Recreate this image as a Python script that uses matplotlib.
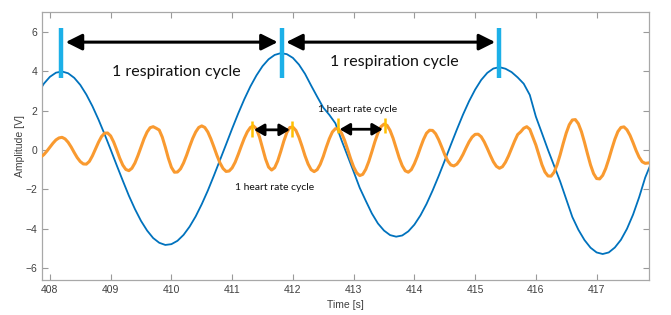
import numpy as np
import matplotlib
matplotlib.use("Agg")
import matplotlib.pyplot as plt

# -------------------------------
# Data
# -------------------------------
# respiration signal, sampled every 0.1 s starting at 407.8 s
resp_t0, resp_dt = 407.8, 0.1
resp_values = [
    2.86, 3.36,
    3.71, 3.92, 3.98, 3.89, 3.66, 3.30, 2.81, 2.22, 1.54, 0.80,
    0.02, -0.78, -1.56, -2.32, -3.00, -3.60, -4.09, -4.47, -4.71, -4.82,
    -4.78, -4.61, -4.31, -3.89, -3.37, -2.75, -2.06, -1.30, -0.51, 0.28,
    1.08, 1.85, 2.57, 3.22, 3.78, 4.25, 4.60, 4.82, 4.91, 4.86,
    4.67, 4.33, 3.86, 3.27, 2.70, 2.15, 1.78, 1.35, 0.50, -0.30,
    -1.10, -1.92, -2.58, -3.22, -3.73, -4.09, -4.32, -4.40, -4.34, -4.13,
    -3.79, -3.32, -2.74, -2.06, -1.32, -0.54, 0.26, 1.04, 1.79, 2.47,
    3.06, 3.55, 3.91, 4.13, 4.20, 4.12, 3.95, 3.68, 3.36, 2.79,
    1.69, 0.85, 0.00, -0.80, -1.60, -2.50, -3.40, -4.05, -4.57, -4.96,
    -5.20, -5.28, -5.20, -4.95, -4.56, -4.00, -3.28, -2.40, -1.40, -0.65,
]

# heart signal, sampled every 0.05 s starting at 407.85 s
heart_t0, heart_dt = 407.85, 0.05
heart_values = [
    -0.36, -0.24, -0.06,
    0.14, 0.34, 0.51, 0.61, 0.64, 0.56, 0.39, 0.15, -0.13, -0.39,
    -0.59, -0.71, -0.72, -0.58, -0.30, 0.04, 0.39, 0.68, 0.85, 0.86,
    0.71, 0.40, 0.00, -0.42, -0.77, -0.99, -1.05, -0.93, -0.66, -0.28,
    0.15, 0.57, 0.91, 1.13, 1.18, 1.10, 1.01, 0.65, 0.14, -0.42,
    -0.88, -1.13, -1.12, -0.96, -0.66, -0.27, 0.17, 0.58, 0.91, 1.14,
    1.22, 1.14, 0.91, 0.56, 0.15, -0.28, -0.66, -0.94, -1.09, -1.07,
    -0.91, -0.62, -0.23, 0.19, 0.59, 0.92, 1.14, 1.22, 1.07, 0.66,
    0.10, -0.46, -0.87, -1.02, -0.90, -0.56, -0.08, 0.44, 0.88, 1.14,
    1.16, 0.99, 0.64, 0.19, -0.30, -0.71, -1.00, -1.10, -1.00, -0.73,
    -0.33, 0.14, 0.57, 0.91, 1.08, 1.06, 0.86, 0.50, 0.04, -0.44,
    -0.86, -1.16, -1.30, -1.24, -0.98, -0.58, -0.09, 0.42, 0.86, 1.18,
    1.31, 1.25, 0.99, 0.59, 0.10, -0.40, -0.80, -1.06, -1.13, -1.00,
    -0.70, -0.32, 0.12, 0.53, 0.85, 1.00, 0.99, 0.82, 0.52, 0.15,
    -0.24, -0.56, -0.76, -0.81, -0.72, -0.51, -0.23, 0.10, 0.41, 0.65,
    0.79, 0.80, 0.67, 0.41, 0.08, -0.27, -0.60, -0.83, -0.93, -0.85,
    -0.62, -0.30, 0.08, 0.45, 0.78, 0.92, 1.10, 1.18, 1.05, 0.65,
    0.25, -0.25, -0.75, -1.12, -1.32, -1.33, -1.13, -0.75, -0.24, 0.33,
    0.86, 1.28, 1.52, 1.54, 1.33, 0.93, 0.39, -0.20, -0.76, -1.20,
    -1.45, -1.47, -1.29, -0.94, -0.47, 0.05, 0.54, 0.93, 1.14, 1.17,
    1.02, 0.74, 0.37, -0.03, -0.37, -0.60, -0.68, -0.66, -0.64,
]

# cycle markers
resp_peaks = [408.19, 411.82, 415.40]
resp_bar = (3.64, 6.18)
resp_arrow_y = 5.47
resp_label = "1 respiration cycle"
resp_label_pos = [(410.08, 3.96), (413.67, 4.47)]

heart_pairs = [(411.33, 411.98), (412.74, 413.51)]
heart_bars = [(0.68, 1.49), (0.85, 1.61)]
heart_arrow_y = [1.02, 1.05]
heart_label = "1 heart rate cycle"
heart_label_pos = [(411.70, -1.93), (413.07, 2.03)]

x_ticks = [408, 409, 410, 411, 412, 413, 414, 415, 416, 417]
y_ticks = [-6, -4, -2, 0, 2, 4, 6]

# -------------------------------
# Build time axes
# -------------------------------
resp_t = resp_t0 + resp_dt * np.arange(len(resp_values))
heart_t = heart_t0 + heart_dt * np.arange(len(heart_values))

# -------------------------------
# Plot
# -------------------------------
fig = plt.figure(figsize=(6.71, 3.15), dpi=100)
ax = fig.add_axes([0.0626, 0.111, 0.9044, 0.851])

ax.plot(resp_t, resp_values, color="#0072BD", lw=1.3, zorder=2)
ax.plot(heart_t, heart_values, color="#F99A30", lw=2.2, zorder=3)

# respiration markers + arrows
for p in resp_peaks:
    ax.plot([p, p], resp_bar, color="#1CB0E8", lw=3.2, solid_capstyle="butt", zorder=5)
for a, b in zip(resp_peaks[:-1], resp_peaks[1:]):
    ax.annotate("", xy=(b - 0.07, resp_arrow_y), xytext=(a + 0.07, resp_arrow_y),
                arrowprops=dict(arrowstyle="<|-|>,head_length=0.7,head_width=0.35",
                                color="black", lw=2.2, shrinkA=0, shrinkB=0,
                                mutation_scale=14), zorder=6)
for x, y in resp_label_pos:
    ax.text(x, y, resp_label, fontsize=11.5, family="Lato", ha="center", va="center",
            color="#111111", zorder=6)

# heart markers + arrows
for (a, b), (lo, hi), ay in zip(heart_pairs, heart_bars, heart_arrow_y):
    for p in (a, b):
        ax.plot([p, p], [lo, hi], color="#FFC000", lw=1.8, solid_capstyle="butt", zorder=5)
    ax.annotate("", xy=(b - 0.03, ay), xytext=(a + 0.03, ay),
                arrowprops=dict(arrowstyle="<|-|>,head_length=0.6,head_width=0.35",
                                color="black", lw=2.0, shrinkA=0, shrinkB=0,
                                mutation_scale=10), zorder=6)
for x, y in heart_label_pos:
    ax.text(x, y, heart_label, fontsize=7.5, family="Lato", ha="center", va="center",
            color="#111111", zorder=6)

# axes styling (MATLAB-like box)
ax.set_xlim(407.87, 417.86)
ax.set_ylim(-6.6, 7.0)
ax.set_xticks(x_ticks)
ax.set_yticks(y_ticks)
ax.tick_params(direction="in", length=4, width=0.8, color="#9a9a9a",
               top=True, right=True, labelsize=7.5, labelcolor="#404040")
for lab in ax.get_xticklabels() + ax.get_yticklabels():
    lab.set_family("Liberation Sans")
for s in ax.spines.values():
    s.set_color("#a8a8a8")
    s.set_linewidth(0.9)

ax.set_xlabel("Time [s]", fontsize=7.5, family="Liberation Sans", color="#404040", labelpad=4)
ax.set_ylabel("Amplitude [V]", fontsize=7.5, family="Liberation Sans", color="#404040", labelpad=0)

plt.savefig("out.png", dpi=100)
